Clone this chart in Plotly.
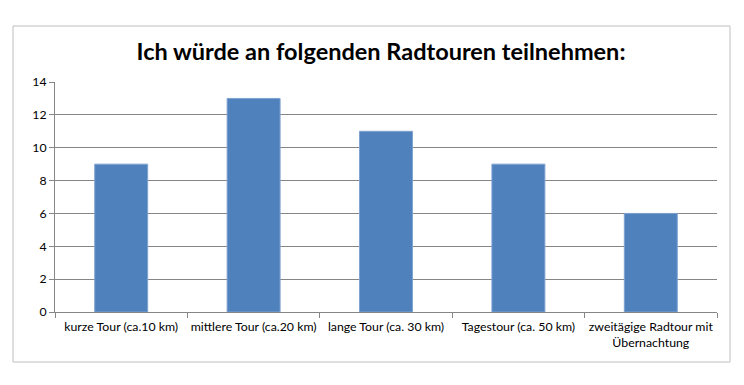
import plotly.graph_objects as go

categories = ["kurze Tour (ca.10 km)", "mittlere Tour (ca.20 km)", "lange Tour (ca. 30 km)",
              "Tagestour (ca. 50 km)", "zweitägige Radtour mit<br>Übernachtung"]
values = [9, 13, 11, 9, 6]
y_ticks = [0, 2, 4, 6, 8, 10, 12, 14]

FONT = "Lato, Open Sans, sans-serif"

fig = go.Figure(go.Bar(
    x=categories, y=values,
    marker=dict(color="#4F81BD", line=dict(color="#7FA3D1", width=1)),
    width=0.40,
))

OFF = 8  # default body margin of the page
W, H = 744, 385
L, R, T, B = 55, 717, 82, 312
def px(x): return (x - L) / (R - L)
def py(y): return (B - y) / (B - T)

fig.update_layout(
    width=W - OFF, height=H - OFF,
    margin=dict(l=L - OFF, r=W - R, t=T - OFF, b=H - B, autoexpand=False),
    paper_bgcolor="white", plot_bgcolor="white",
    showlegend=False,
    font=dict(family=FONT, size=12, color="#000000"),
    title=dict(text="<b>Ich würde an folgenden Radtouren teilnehmen:</b>",
               x=px(381), xref="paper", xanchor="center",
               y=1 - (52 - OFF) / (H - OFF), yanchor="middle",
               font=dict(family=FONT, size=23.5, color="#000000")),
    xaxis=dict(type="category", showline=True, linecolor="#868686", linewidth=1,
               ticks="outside", tickson="boundaries", ticklen=5, tickcolor="#868686",
               showgrid=False, tickfont=dict(size=12.3), tickangle=0, automargin=False,
               ticklabelstandoff=3),
    yaxis=dict(range=[0, 14], tickvals=y_ticks, showline=True, linecolor="#868686",
               linewidth=1, ticks="outside", ticklen=5, tickcolor="#868686",
               showgrid=True, gridcolor="#868686", gridwidth=1, zeroline=False,
               tickfont=dict(size=12.3), automargin=False),
    shapes=[dict(type="rect", xref="paper", yref="paper",
                 x0=px(13), x1=px(730), y0=py(362), y1=py(26),
                 line=dict(color="#BFBFBF", width=1), fillcolor="rgba(0,0,0,0)",
                 layer="below")],
)

fig.write_html("out.html")
